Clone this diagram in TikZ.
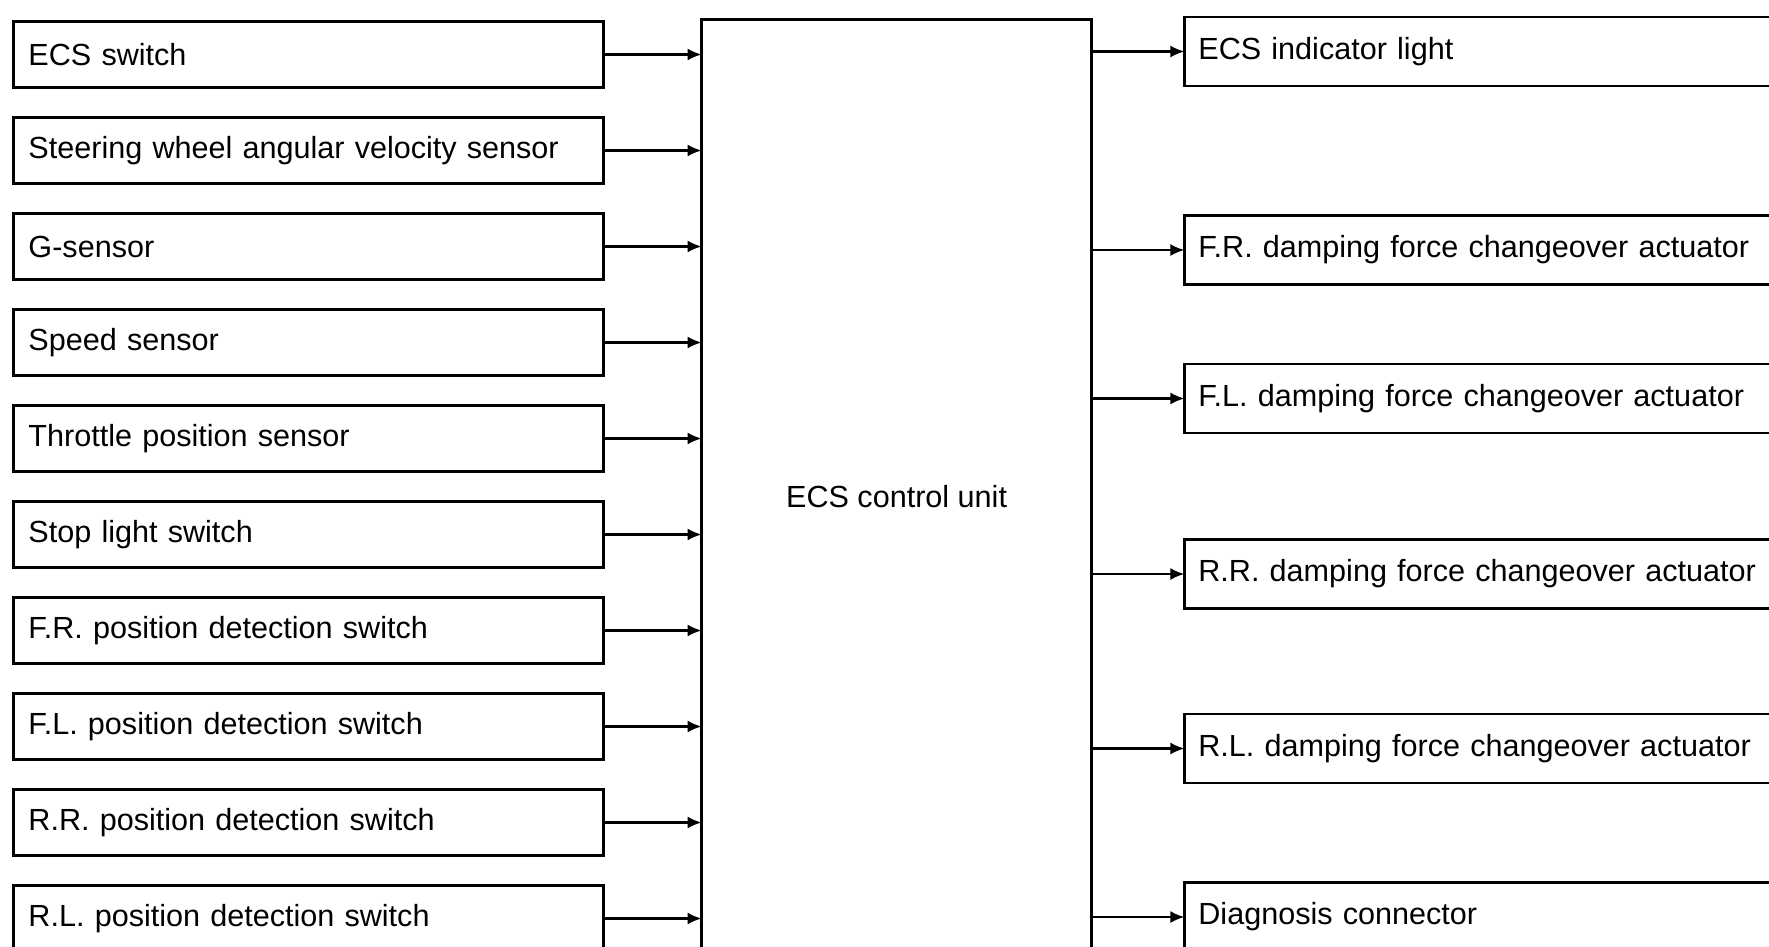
\documentclass[tikz,border=0pt]{standalone}
\usepackage{fontspec}
\setmainfont{Liberation Sans}
\usetikzlibrary{arrows.meta,positioning}

\begin{document}
\begin{tikzpicture}[
  font=\fontsize{8.7}{10}\selectfont,
  inbox/.style={draw, line width=0.8pt, align=left, text width=5.60cm, inner xsep=0.15cm, minimum height=6.6mm, outer sep=0pt},
  outbox/.style={draw, line width=0.8pt, anchor=west, align=left, text width=6.4cm, inner xsep=0.14cm, minimum height=6.9mm, outer sep=0pt},
  ecubox/.style={draw, line width=0.8pt, minimum width=3.9cm, minimum height=9.54cm, outer sep=0pt},
  arr/.style={-{Latex[length=1.4mm,width=1.2mm]}, line width=0.6pt}
]
\useasboundingbox (0,0) rectangle (17.69,-9.46);
\clip (0,0) rectangle (17.69,-9.46);
% inputs
\node[inbox, anchor=north west] (ecssw) at (0.135,-0.215) {ECS switch};
\node[inbox, below=3mm of ecssw] (steer) {Steering wheel angular velocity sensor};
\node[inbox, below=3mm of steer] (gsen) {G-sensor};
\node[inbox, below=3mm of gsen] (speed) {Speed sensor};
\node[inbox, below=3mm of speed] (tps) {Throttle position sensor};
\node[inbox, below=3mm of tps] (stop) {Stop light switch};
\node[inbox, below=3mm of stop] (frpos) {F.R. position detection switch};
\node[inbox, below=3mm of frpos] (flpos) {F.L. position detection switch};
\node[inbox, below=3mm of flpos] (rrpos) {R.R. position detection switch};
\node[inbox, below=3mm of rrpos] (rlpos) {R.L. position detection switch};
% control unit
\node[ecubox, anchor=north west] (ecu) at (7.016,-0.192) {ECS control unit};
% outputs
\node[outbox] (light) at (11.844,-0.515) {ECS indicator light};
\node[outbox] (fract) at (11.844,-2.50) {F.R. damping force changeover actuator};
\node[outbox] (flact) at (11.844,-3.985) {F.L. damping force changeover actuator};
\node[outbox] (rract) at (11.844,-5.74) {R.R. damping force changeover actuator};
\node[outbox] (rlact) at (11.844,-7.485) {R.L. damping force changeover actuator};
\node[outbox] (diag) at (11.844,-9.17) {Diagnosis connector};
\draw[arr] (ecssw.east) -- (ecssw.east -| ecu.west);
\draw[arr] (steer.east) -- (steer.east -| ecu.west);
\draw[arr] (gsen.east) -- (gsen.east -| ecu.west);
\draw[arr] (speed.east) -- (speed.east -| ecu.west);
\draw[arr] (tps.east) -- (tps.east -| ecu.west);
\draw[arr] (stop.east) -- (stop.east -| ecu.west);
\draw[arr] (frpos.east) -- (frpos.east -| ecu.west);
\draw[arr] (flpos.east) -- (flpos.east -| ecu.west);
\draw[arr] (rrpos.east) -- (rrpos.east -| ecu.west);
\draw[arr] (rlpos.east) -- (rlpos.east -| ecu.west);
\draw[arr] (ecu.east |- light.west) -- (light.west);
\draw[arr] (ecu.east |- fract.west) -- (fract.west);
\draw[arr] (ecu.east |- flact.west) -- (flact.west);
\draw[arr] (ecu.east |- rract.west) -- (rract.west);
\draw[arr] (ecu.east |- rlact.west) -- (rlact.west);
\draw[arr] (ecu.east |- diag.west) -- (diag.west);
\end{tikzpicture}
\end{document}
